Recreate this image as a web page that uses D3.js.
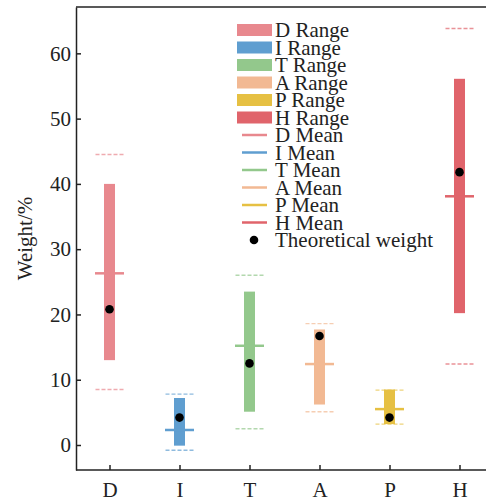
<!DOCTYPE html>
<html>
<head>
<meta charset="utf-8">
<script src="https://cdn.jsdelivr.net/npm/d3@7"></script>
<style>
  body { margin: 0; background: #fff; }
  text { font-family: "Liberation Serif", "Times New Roman", serif; fill: #222; }
</style>
</head>
<body>
<div id="main"></div>
<script>
// values
const categories = ["D", "I", "T", "A", "P", "H"];
const rangeMin = [13.0, -0.1, 5.1, 6.2, 3.2, 20.2];
const rangeMax = [40.0, 7.2, 23.5, 17.7, 8.5, 56.1];
const meanVals = [26.3, 2.3, 15.2, 12.4, 5.5, 38.1];
const theoVals = [20.8, 4.2, 12.5, 16.7, 4.2, 41.8];
const upperVals = [44.5, 7.8, 26.0, 18.6, 8.4, 63.8];
const lowerVals = [8.5, -0.8, 2.5, 5.1, 3.2, 12.4];
const yTicks = [0, 10, 20, 30, 40, 50, 60];
const colors = ["#e8888e", "#5f9ed0", "#93c88c", "#f2b993", "#e6c043", "#e0646b"];

const ctx = {
    w: 486,
    h: 499,
    left: 76,
    right: 494,
    top: 7,
    bottom: 470,
    fs: 21,
};

function createViz(){
    let svg = d3.select("#main").append("svg")
        .attr("width", ctx.w).attr("height", ctx.h);

    ctx.xScale = d3.scalePoint().domain(categories).range([109.5, 459.5]);
    ctx.yScale = d3.scaleLinear().domain([-3.83, 67.1]).range([ctx.bottom, ctx.top]);
    let x = ctx.xScale, y = ctx.yScale;

    let data = categories.map((c, i) => ({
        cat: c, lo: rangeMin[i], hi: rangeMax[i], mean: meanVals[i],
        theo: theoVals[i], up: upperVals[i], low: lowerVals[i], color: colors[i]
    }));

    let plot = svg.append("g");
    // range bars
    plot.selectAll("rect.range").data(data).enter().append("rect")
        .attr("x", d => x(d.cat) - 5.5)
        .attr("width", 11)
        .attr("y", d => y(d.hi))
        .attr("height", d => y(d.lo) - y(d.hi))
        .attr("fill", d => d.color);
    // dashed upper/lower limits
    ["up", "low"].forEach(k => {
        plot.selectAll("line." + k).data(data).enter().append("line")
            .attr("x1", d => x(d.cat) - 14).attr("x2", d => x(d.cat) + 14)
            .attr("y1", d => y(d[k])).attr("y2", d => y(d[k]))
            .attr("stroke", d => d.color)
            .attr("stroke-opacity", 0.7)
            .attr("stroke-width", 1.4)
            .attr("stroke-dasharray", "4,2");
    });
    // mean lines
    plot.selectAll("line.mean").data(data).enter().append("line")
        .attr("x1", d => x(d.cat) - 14.5).attr("x2", d => x(d.cat) + 14.5)
        .attr("y1", d => y(d.mean)).attr("y2", d => y(d.mean))
        .attr("stroke", d => d.color)
        .attr("stroke-width", 2.5);
    // theoretical weight
    plot.selectAll("circle.theo").data(data).enter().append("circle")
        .attr("cx", d => x(d.cat)).attr("cy", d => y(d.theo))
        .attr("r", 4.3).attr("fill", "#000");

    // axes (ticks pointing inward)
    let xAxis = svg.append("g")
        .attr("transform", `translate(0,${ctx.bottom})`)
        .call(d3.axisBottom(x).tickSizeInner(-5).tickSizeOuter(0).tickPadding(12));
    xAxis.select(".domain").attr("d", `M${ctx.left},0H${ctx.right}`);
    let yAxis = svg.append("g")
        .attr("transform", `translate(${ctx.left},0)`)
        .call(d3.axisLeft(y).tickValues(yTicks).tickSizeInner(-5).tickSizeOuter(0).tickPadding(5));
    [xAxis, yAxis].forEach(a => {
        a.selectAll("text").style("font-size", ctx.fs + "px")
            .style("font-family", "Liberation Serif").attr("fill", "#222");
        a.selectAll("line, path").attr("stroke", "#222").attr("stroke-width", 1.5);
    });
    // top frame line
    svg.append("line")
        .attr("x1", ctx.left).attr("x2", ctx.right)
        .attr("y1", ctx.top).attr("y2", ctx.top)
        .attr("stroke", "#222").attr("stroke-width", 1.5);

    // y-axis label
    svg.append("text")
        .attr("transform", `translate(32,${(ctx.top + ctx.bottom) / 2}) rotate(-90)`)
        .attr("text-anchor", "middle")
        .style("font-size", ctx.fs + "px")
        .text("Weight/%");

    // legend
    let lg = svg.append("g").attr("transform", "translate(237,30)");
    const step = 17.5;
    categories.forEach((c, i) => {
        lg.append("rect").attr("x", 0).attr("y", i * step - 6)
            .attr("width", 35).attr("height", 12).attr("fill", colors[i]);
        lg.append("text").attr("x", 38).attr("y", i * step + 7)
            .style("font-size", ctx.fs + "px").text(c + " Range");
    });
    categories.forEach((c, i) => {
        let yy = (i + 6) * step;
        lg.append("line").attr("x1", 5).attr("x2", 30).attr("y1", yy).attr("y2", yy)
            .attr("stroke", colors[i]).attr("stroke-width", 2.5);
        lg.append("text").attr("x", 38).attr("y", yy + 7)
            .style("font-size", ctx.fs + "px").text(c + " Mean");
    });
    lg.append("circle").attr("cx", 17).attr("cy", 12 * step).attr("r", 4.3).attr("fill", "#000");
    lg.append("text").attr("x", 38).attr("y", 12 * step + 7)
        .style("font-size", ctx.fs + "px").text("Theoretical weight");
}

createViz();
</script>
</body>
</html>
